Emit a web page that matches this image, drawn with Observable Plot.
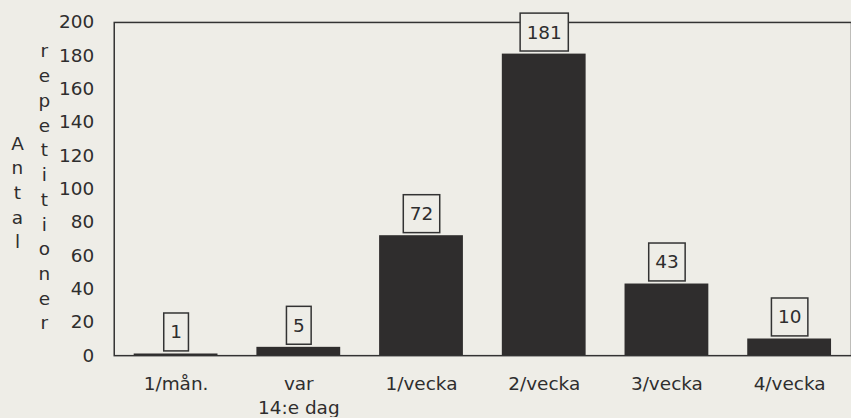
<!DOCTYPE html>
<html><head><meta charset="utf-8">
<script src="https://cdn.jsdelivr.net/npm/d3@7"></script>
<script src="https://cdn.jsdelivr.net/npm/@observablehq/plot@0.6"></script>
<style>html,body{margin:0;padding:0;background:#eeede7;overflow:hidden}</style>
</head><body><div id="chart"></div>
<script>
const categories = ["1/mån.", "var\n14:e dag", "1/vecka", "2/vecka", "3/vecka", "4/vecka"];
const counts = [1, 5, 72, 181, 43, 10];
const yTicks = [0, 20, 40, 60, 80, 100, 120, 140, 160, 180, 200];
const yLabelOuter = "Antal";
const yLabelInner = "repetitioner";

const data = categories.map((c, i) => ({category: c, count: counts[i]}));
const ink = "#2f2d2d";
const textInk = "#2e2e2e";
const paper = "#eeede7";

const chart = Plot.plot({
  width: 853, height: 418,
  marginLeft: 114, marginRight: 0, marginTop: 22, marginBottom: 62,
  style: {fontFamily: "DejaVu Sans", fontSize: "18.5px", color: textInk, background: paper},
  x: {domain: categories, paddingInner: 0.32, paddingOuter: 0.15, label: null},
  y: {domain: [0, 200], label: null},
  marks: [
    Plot.barY(data, {x: "category", y: "count", fill: ink}),
    Plot.frame({stroke: "#333", strokeWidth: 1.5}),
    Plot.axisY({ticks: yTicks, tickSize: 0, tickPadding: 20, label: null}),
    Plot.axisX({tickSize: 0, tickPadding: 17, lineHeight: 1.3, label: null}),
    Plot.text(data, {x: "category", y: "count", text: d => String(d.count), dy: -21.5, lineAnchor: "middle", fill: textInk}),
    Plot.text([yLabelOuter], {frameAnchor: "left", text: d => d.split("").join("\n"), dx: -97, dy: 2, lineHeight: 1.34, textAnchor: "middle", lineAnchor: "middle", fill: textInk}),
    Plot.text([yLabelInner], {frameAnchor: "left", text: d => d.split("").join("\n"), dx: -70, dy: -3.5, lineHeight: 1.34, textAnchor: "middle", lineAnchor: "middle", fill: textInk})
  ]
});
document.getElementById("chart").append(chart);

const g = chart.querySelectorAll('g[aria-label="text"]')[0];
if (g) {
  g.querySelectorAll("text").forEach(t => {
    const b = t.getBBox();
    const pad = 6.5, h = 38;
    const r = document.createElementNS("http://www.w3.org/2000/svg", "rect");
    r.setAttribute("x", b.x - pad);
    r.setAttribute("y", b.y + b.height / 2 - h / 2);
    r.setAttribute("width", b.width + 2 * pad);
    r.setAttribute("height", h);
    const tr = t.getAttribute("transform");
    if (tr) r.setAttribute("transform", tr);
    r.setAttribute("fill", paper);
    r.setAttribute("stroke", "#333");
    r.setAttribute("stroke-width", 1.5);
    t.parentNode.insertBefore(r, t);
  });
}
</script>
</body></html>
